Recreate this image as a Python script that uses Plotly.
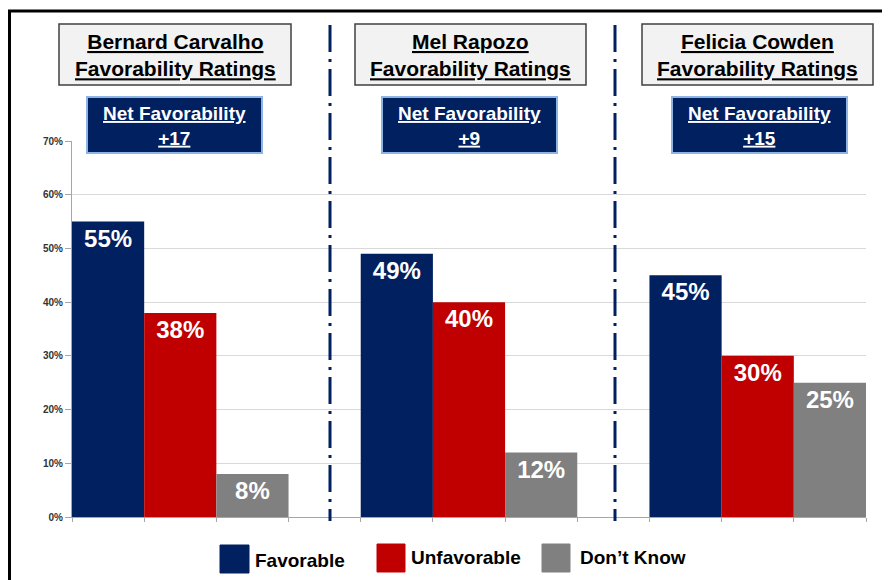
import plotly.graph_objects as go

candidates = ["Bernard Carvalho", "Mel Rapozo", "Felicia Cowden"]
net_favorability = ["+17", "+9", "+15"]
series_names = ["Favorable", "Unfavorable", "Don’t Know"]
favorable = [55, 49, 45]
unfavorable = [38, 40, 30]
dont_know = [8, 12, 25]
y_ticks = [0, 10, 20, 30, 40, 50, 60, 70]

colors = ["#002060", "#C00000", "#808080"]
FONT = "Arial, 'Liberation Sans', sans-serif"

# page body has an 8px margin, so the figure is drawn 8px in from the window edge
OFF = 8
W, H = 890 - OFF, 580 - OFF
PLOT_L, PLOT_R, PLOT_T, PLOT_B = 72, 866, 141, 517  # window pixel coordinates
L, R = PLOT_L - OFF, W - (PLOT_R - OFF)
T, B = PLOT_T - OFF, H - (PLOT_B - OFF)
PW, PH = PLOT_R - PLOT_L, PLOT_B - PLOT_T


def px(x):
    return (x - PLOT_L) / PW


def py(y):
    return (PLOT_B - y) / PH


fig = go.Figure()
series = [favorable, unfavorable, dont_know]
for s, (name, vals, col) in enumerate(zip(series_names, series, colors)):
    xs = [g * 4 + s for g in range(len(candidates))]
    fig.add_trace(go.Bar(
        x=xs, y=[v / 100 for v in vals], name=name, width=1,
        marker=dict(color=col, line=dict(width=0)),
        text=[f"{v}%" for v in vals], textposition="inside",
        insidetextanchor="end", textangle=0,
        textfont=dict(family=FONT, size=24, color="white", weight="bold"),
        cliponaxis=False, showlegend=False,
    ))

fig.update_layout(
    width=W, height=H, margin=dict(l=L, r=R, t=T, b=B),
    paper_bgcolor="white", plot_bgcolor="white",
    barmode="overlay", uniformtext=dict(mode=False),
    font=dict(family=FONT),
)
fig.update_xaxes(
    range=[-0.5, 10.5], tickvals=[i - 0.5 for i in range(12)], showticklabels=False,
    ticks="outside", ticklen=4, tickcolor="#A6A6A6", showgrid=False,
    showline=True, linecolor="#A6A6A6", linewidth=1, zeroline=False,
)
fig.update_yaxes(
    range=[0, 0.7], tickvals=[t / 100 for t in y_ticks], ticktext=[f"{t}%" for t in y_ticks],
    ticks="outside", ticklen=6, tickcolor="#A6A6A6",
    tickfont=dict(family=FONT, size=10, color="#333333", weight="bold"),
    showgrid=True, gridcolor="#D9D9D9", gridwidth=1,
    showline=True, linecolor="#A6A6A6", linewidth=1, zeroline=False,
)

shapes = []
annotations = []

# outer frame (left and top)
shapes.append(dict(type="line", xref="paper", yref="paper", x0=px(9.5), x1=px(9.5), y0=py(10), y1=py(590),
                   line=dict(color="black", width=3)))
shapes.append(dict(type="line", xref="paper", yref="paper", x0=px(8), x1=px(900), y0=py(11), y1=py(11),
                   line=dict(color="black", width=3)))

# dash-dot separators
for sx in [330, 615]:
    shapes.append(dict(type="line", xref="paper", yref="paper", x0=px(sx), x1=px(sx), y0=py(25), y1=py(521),
                       line=dict(color="#002060", width=3, dash="27px,7px,3px,7px")))

title_boxes = [(59, 291), (355, 586), (642, 873)]
net_boxes = [(87, 262), (382, 557), (672, 847)]
for name, net, (tx0, tx1), (nx0, nx1) in zip(candidates, net_favorability, title_boxes, net_boxes):
    shapes.append(dict(type="rect", xref="paper", yref="paper", x0=px(tx0), x1=px(tx1), y0=py(85), y1=py(24),
                       fillcolor="#F2F2F2", line=dict(color="#404040", width=1.5)))
    annotations.append(dict(xref="paper", yref="paper", x=px((tx0 + tx1) / 2), y=py(55),
                            text=f"<b><u>{name}</u></b><br><b><u>Favorability Ratings</u></b>",
                            showarrow=False, xanchor="center", yanchor="middle",
                            font=dict(family=FONT, size=21, color="black")))
    shapes.append(dict(type="rect", xref="paper", yref="paper", x0=px(nx0), x1=px(nx1), y0=py(153), y1=py(97),
                       fillcolor="#002060", line=dict(color="#8DB4E2", width=2)))
    annotations.append(dict(xref="paper", yref="paper", x=px((nx0 + nx1) / 2), y=py(126),
                            text=f"<b><u>Net Favorability</u></b><br><b><u>{net}</u></b>",
                            showarrow=False, xanchor="center", yanchor="middle",
                            font=dict(family=FONT, size=19, color="white")))

# legend
legend_items = [(220, 249, 545, 573, 253, 560), (377, 405, 544, 572, 409, 557), (542, 570, 544, 572, 578, 557)]
for name, col, (lx0, lx1, ly0, ly1, tx, ty) in zip(series_names, colors, legend_items):
    shapes.append(dict(type="rect", xref="paper", yref="paper", x0=px(lx0), x1=px(lx1), y0=py(ly1), y1=py(ly0),
                       fillcolor=col, line=dict(color=col, width=1)))
    annotations.append(dict(xref="paper", yref="paper", x=px(tx), y=py(ty), text=f"<b>{name}</b>",
                            showarrow=False, xanchor="left", yanchor="middle",
                            font=dict(family=FONT, size=19, color="black")))

fig.update_layout(shapes=shapes, annotations=annotations)
fig.write_html("out.html")
